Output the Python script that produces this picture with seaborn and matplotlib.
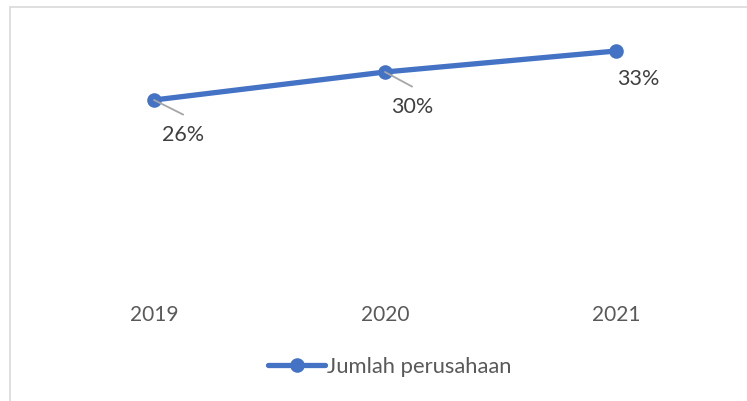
import matplotlib
matplotlib.use("Agg")
import matplotlib.pyplot as plt
import seaborn as sns
import pandas as pd
from matplotlib.patches import Rectangle
from matplotlib.lines import Line2D

years = ["2019", "2020", "2021"]
values = [0.26, 0.30, 0.33]
labels = ["26%", "30%", "33%"]
series_name = "Jumlah perusahaan"

sns.set_style("white")
plt.rcParams['font.family'] = ['Lato', 'DejaVu Sans']

df = pd.DataFrame({"year": years, "value": values})

fig = plt.figure(figsize=(7.47, 4.01), dpi=100)
ax = fig.add_axes([38.5/747, (401-282)/401, (731.5-38.5)/747, (282-37)/401])

color = "#4472C4"
sns.lineplot(data=df, x="year", y="value", ax=ax, color=color, linewidth=3.8,
             marker="o", markersize=10.5, markeredgewidth=0, sort=False)

ax.set_xlim(-0.5, 2.5)
ax.set_ylim(0, 0.35)
for s in ax.spines.values():
    s.set_visible(False)
ax.set_yticks([])
ax.set_xlabel("")
ax.set_ylabel("")
ax.tick_params(axis="x", length=0, pad=16.5, labelsize=15, labelcolor="#595959")

# data labels with leader lines
offsets = [(21, -25.5), (19.5, -25.5), (16, -20.5)]
leaders = [True, True, False]
for i, (yv, lab) in enumerate(zip(values, labels)):
    dx, dy = offsets[i]
    if leaders[i]:
        ax.annotate("", xy=(i, yv), xytext=(dx, dy + 15), textcoords="offset points",
                    arrowprops=dict(arrowstyle="-", color="#a6a6a6", lw=1.3,
                                    shrinkA=0, shrinkB=0))
    ax.annotate(lab, xy=(i, yv), xytext=(dx, dy), textcoords="offset points",
                ha="center", va="center", fontsize=15.5, color="#404040")

# legend
handle = Line2D([], [], color=color, linewidth=3.8, marker="o", markersize=10.5,
                markeredgewidth=0)
fig.legend([handle], [series_name], loc="center", bbox_to_anchor=(390/747, 1 - 367/401),
           frameon=False, fontsize=15.8, labelcolor="#595959", handlelength=2.6,
           handletextpad=0.1)

# chart border (only top and left visible)
fig.patches.append(Rectangle((10/747, -0.1), 1.2, 1.1 - 7/401, transform=fig.transFigure,
                             fill=False, edgecolor="#d9d9d9", linewidth=1.2))

fig.savefig("out.png", dpi=100)
